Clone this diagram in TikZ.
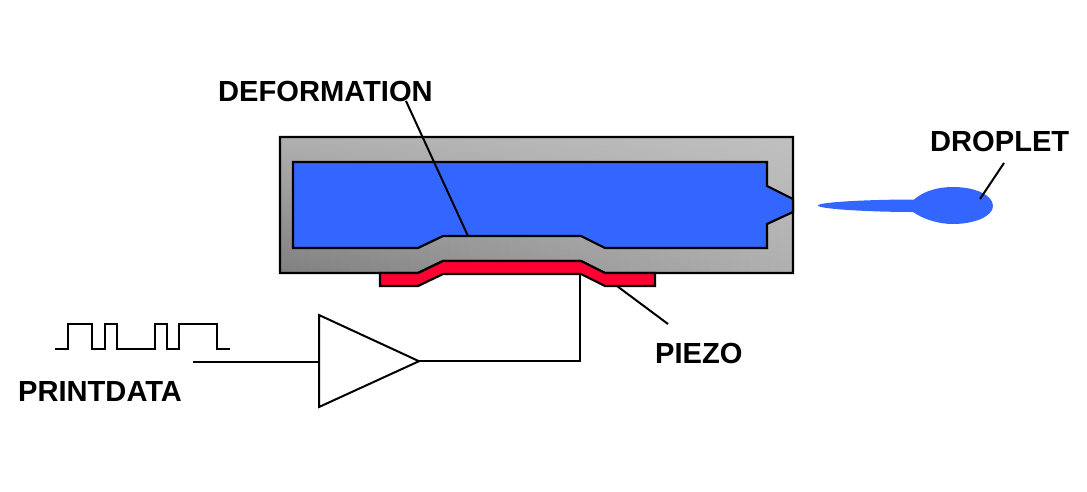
\documentclass[tikz,border=0pt]{standalone}
\usepackage{fontspec}
\setmainfont{Liberation Sans}
\definecolor{inkblue}{HTML}{3366FF}
\definecolor{piezored}{HTML}{FF0033}
\tikzset{
  lbl/.style={font=\fontsize{29.1}{30}\selectfont\bfseries, inner sep=0pt, text=black},
  wire/.style={draw=black, line width=2.2pt, line join=miter},
  thin wire/.style={draw=black, line width=2pt},
}
\begin{document}
\begin{tikzpicture}[x=1pt,y=-1pt]
\useasboundingbox (0,0) rectangle (1087,491);
% body with four-corner gradient, built from vertical strips
\begin{scope}
  \clip (280,137) -- (793,137) -- (793,273) -- (605,273) -- (581,261) -- (443,261) -- (418,273) -- (280,273) -- cycle;
  \foreach \i in {0,...,51} {
    \pgfmathsetmacro{\tg}{(176+16*\i/51)/255}
    \pgfmathsetmacro{\bg}{(128+48*\i/51)/255}
    \definecolor{stripT}{gray}{\tg}
    \definecolor{stripB}{gray}{\bg}
    \shade[top color=stripT, bottom color=stripB] ({280+\i*10},137) rectangle ({280+\i*10+11.5},273);
  }
\end{scope}
\draw[wire] (280,137) -- (793,137) -- (793,273) -- (605,273) -- (581,261) -- (443,261) -- (418,273) -- (280,273) -- cycle;
% ink chamber
\draw[wire, fill=inkblue] (293,162) -- (767,162) -- (767,186) -- (793,199) -- (793,212) -- (767,224) -- (767,248) -- (605,248) -- (581,236) -- (443,236) -- (418,248) -- (293,248) -- cycle;
% piezo
\draw[wire, fill=piezored] (380,273) -- (418,273) -- (443,261) -- (581,261) -- (605,273) -- (655,273) -- (655,286) -- (605,286) -- (581,274) -- (443,274) -- (418,286) -- (380,286) -- cycle;
% droplet
\fill[inkblue] (818,205.5) .. controls (818,202) and (870,199.5) .. (914,199.5) .. controls (925,190) and (940,187) .. (953,187) .. controls (975,187) and (993,195) .. (993,206) .. controls (993,216) and (975,224) .. (953,224) .. controls (938,224) and (923,219) .. (913,212) .. controls (870,212) and (818,209) .. (818,205.5) -- cycle;
% labels
\node[lbl, anchor=base west] (deformation) at (218,101) {DEFORMATION};
\node[lbl, anchor=base west] (droplet) at (930,151) {DROPLET};
\node[lbl, anchor=base west] (piezo) at (655,363) {PIEZO};
\node[lbl, anchor=base west] (printdata) at (18,401) {PRINTDATA};
% amplifier
\node[draw=none, inner sep=0pt, minimum size=0pt] (ampin) at (319,361.7) {};
\coordinate (ampout) at (419,361.2);
\draw[thin wire, fill=white, line join=miter] (319,315) -- (ampout) -- (319,407) -- cycle;
% connectors
\coordinate (datain) at (193,361.7);
\coordinate (defA) at (406,101);
\coordinate (defB) at (468,236);
\coordinate (dropA) at (1004,163);
\coordinate (dropB) at (980,199);
\coordinate (pzA) at (617,286);
\coordinate (pzB) at (668,324);
\coordinate (pzC) at (580,274);
\draw[thin wire] (datain) -- (ampin.center);
\draw[thin wire] (ampout) -- (580,361.2) -- (pzC);
\draw[thin wire] (defA) -- (defB);
\draw[thin wire] (dropA) -- (dropB);
\draw[thin wire] (pzA) -- (pzB);
% print data waveform
\draw[thin wire, line join=miter] (55,348.5) -- (68,348.5) -- (68,324) -- (92,324) -- (92,348.5) -- (105,348.5) -- (105,324) -- (117,324) -- (117,348.5) -- (155,348.5) -- (155,324) -- (167,324) -- (167,348.5) -- (179,348.5) -- (179,324) -- (217,324) -- (217,348.5) -- (230,348.5);
\end{tikzpicture}
\end{document}
